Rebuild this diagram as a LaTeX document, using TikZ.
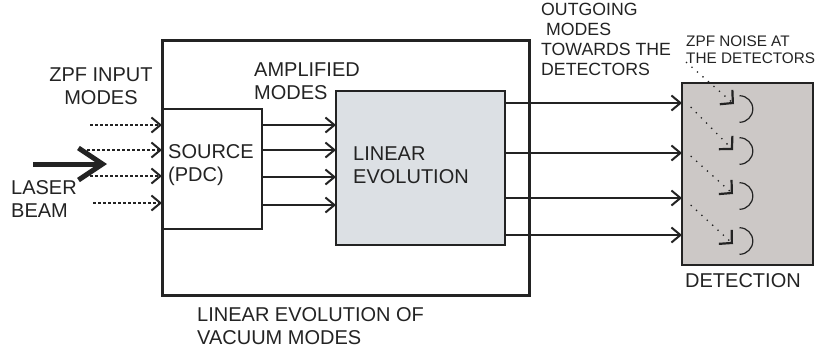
\documentclass[tikz,border=0pt]{standalone}
\usepackage{fontspec}
\setmainfont{Liberation Sans}
\usetikzlibrary{arrows.meta}
\definecolor{evofill}{RGB}{220,224,228}
\definecolor{detfill}{RGB}{204,200,198}
\definecolor{ink}{RGB}{35,35,35}

\begin{document}
\begin{tikzpicture}[x=1pt,y=1pt,
	box/.style={draw=ink, line width=1.2pt, inner sep=0pt, outer sep=0pt},
	lbl/.style={inner sep=0pt, align=left, text=ink, font=\fontsize{20}{23}\selectfont},
	mode/.style={draw=ink, line width=1.2pt, -{Straight Barb[length=9pt,width=15pt,line width=2pt]}},
	zpf/.style={mode, dash pattern=on 2.5pt off 2.5pt},
	noise/.style={draw=ink, line width=1.3pt, dash pattern=on 1.3pt off 6pt, -{Straight Barb[length=9pt,width=19pt,line width=2.2pt]}},
	beam/.style={draw=ink, line width=5pt, -{Straight Barb[length=24pt,width=32pt,line width=5pt]}}]
	\useasboundingbox (0,0) rectangle (817,-349);
	% boxes
	\node (src)   at (212,-169)     [box, fill=white, minimum width=100pt, minimum height=120pt] {};
	\node (frame) at (345.5,-168.3) [box, line width=3pt, minimum width=367pt, minimum height=255pt] {};
	\node (evo)   at (420.5,-168)   [box, fill=evofill, minimum width=169pt, minimum height=154pt] {};
	\node (det)   at (747.5,-174)   [box, fill=detfill, minimum width=131pt, minimum height=182pt] {};
	% labels
	\node (zpfin)  at (101,-68)  [lbl, anchor=north, align=center] {ZPF INPUT\\MODES};
	\node (laserl) at (11,-180)  [lbl, anchor=north west] {LASER\\BEAM};
	\node (srcl)   at (168,-144) [lbl, anchor=north west] {SOURCE\\(PDC)};
	\node (ampl)   at (254,-63)  [lbl, anchor=north west] {AMPLIFIED\\MODES};
	\node (evol)   at (353,-147) [lbl, anchor=north west] {LINEAR\\EVOLUTION};
	\node (vacl)   at (197,-307) [lbl, anchor=north west] {LINEAR EVOLUTION OF\\VACUUM MODES};
	\node (outl)   at (541,-2.5) [lbl, anchor=north west, font=\fontsize{17.7}{20}\selectfont] {OUTGOING\\\hspace{0.28em}MODES\\TOWARDS THE\\DETECTORS};
	\node (noisel) at (686,-36)  [lbl, anchor=north west, font=\fontsize{15.3}{16.5}\selectfont] {ZPF NOISE AT\\THE DETECTORS};
	\node (detl)   at (685,-273) [lbl, anchor=north west] {DETECTION};
	% laser beam
	\coordinate (lb1) at (33,-164);
	\coordinate (lb2) at (107,-164);
	\draw[beam] (lb1) -- (lb2);
	% zpf input modes
	\coordinate (z1) at (90,-125);
	\coordinate (z2) at (87,-150);
	\coordinate (z3) at (90,-176);
	\coordinate (z4) at (93,-203);
	\draw[zpf] (z1) -- (src.west |- z1);
	\draw[zpf] (z2) -- (src.west |- z2);
	\draw[zpf] (z3) -- (src.west |- z3);
	\draw[zpf] (z4) -- (src.west |- z4);
	% amplified modes
	\draw[mode] (src.east |- 0,-125) -- (evo.west |- 0,-125);
	\draw[mode] (src.east |- 0,-150) -- (evo.west |- 0,-150);
	\draw[mode] (src.east |- 0,-177) -- (evo.west |- 0,-177);
	\draw[mode] (src.east |- 0,-205) -- (evo.west |- 0,-205);
	% outgoing modes
	\draw[mode] (evo.east |- 0,-103) -- (det.west |- 0,-103);
	\draw[mode] (evo.east |- 0,-153) -- (det.west |- 0,-153);
	\draw[mode] (evo.east |- 0,-198) -- (det.west |- 0,-198);
	\draw[mode] (evo.east |- 0,-235) -- (det.west |- 0,-235);
	% detectors
	\coordinate (d1) at (739.5,-109);
	\coordinate (d2) at (739.5,-151);
	\coordinate (d3) at (739.5,-196);
	\coordinate (d4) at (739.5,-241);
	\draw[ink, line width=1.2pt] (d1) ++(0,13.3) arc[start angle=90, end angle=-90, radius=13.3];
	\draw[ink, line width=1.2pt] (d2) ++(0,13.3) arc[start angle=90, end angle=-90, radius=13.3];
	\draw[ink, line width=1.2pt] (d3) ++(0,13.3) arc[start angle=90, end angle=-90, radius=13.3];
	\draw[ink, line width=1.2pt] (d4) ++(0,13.3) arc[start angle=90, end angle=-90, radius=13.3];
	% zpf noise at the detectors
	\coordinate (n1) at (686,-62);
	\coordinate (n2) at (690.7,-107);
	\coordinate (n3) at (690.7,-156);
	\coordinate (n4) at (690.7,-205);
	\coordinate (t1) at (734,-104);
	\coordinate (t2) at (733,-150);
	\coordinate (t3) at (733,-194);
	\coordinate (t4) at (733,-244);
	\draw[noise] (n1) -- (t1);
	\draw[noise] (n2) -- (t2);
	\draw[noise] (n3) -- (t3);
	\draw[noise] (n4) -- (t4);
\end{tikzpicture}
\end{document}
